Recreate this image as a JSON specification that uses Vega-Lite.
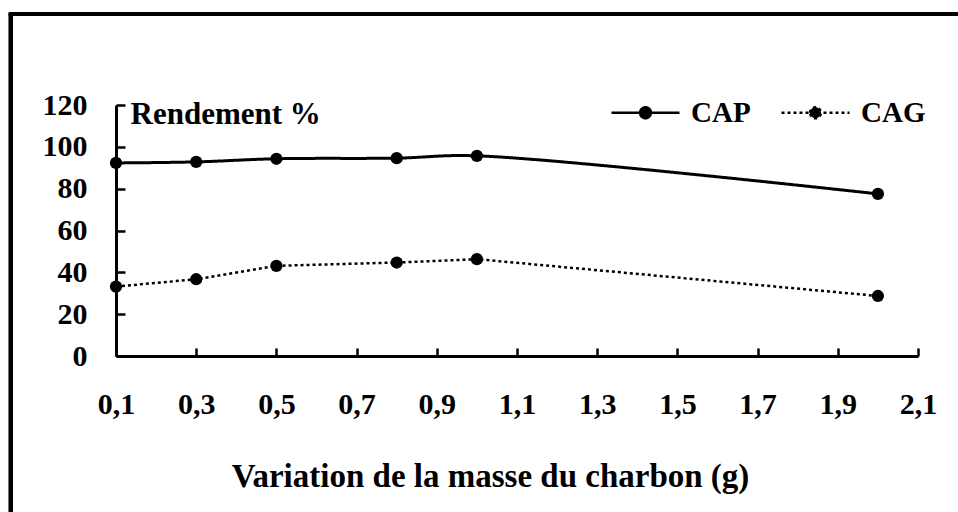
{
  "$schema": "https://vega.github.io/schema/vega-lite/v6.json",
  "width": 802,
  "height": 251,
  "autosize": "none",
  "padding": {"left": 116, "top": 105, "right": 40, "bottom": 156},
  "background": "white",
  "config": {
    "view": {"stroke": null},
    "font": "Liberation Serif",
    "axis": {
      "grid": false,
      "domainColor": "black",
      "domainWidth": 3,
      "tickColor": "black",
      "tickWidth": 2.5,
      "labelFont": "Liberation Serif",
      "labelFontWeight": "bold",
      "labelFontSize": 30,
      "labelColor": "black",
      "titleFont": "Liberation Serif",
      "titleFontWeight": "bold",
      "titleFontSize": 31,
      "titleColor": "black"
    }
  },
  "data": {
    "values": [
      {"series": "CAP", "masse": 0.1, "rendement": 92.3},
      {"series": "CAP", "masse": 0.3, "rendement": 92.8},
      {"series": "CAP", "masse": 0.5, "rendement": 94.3},
      {"series": "CAP", "masse": 0.8, "rendement": 94.6},
      {"series": "CAP", "masse": 1.0, "rendement": 95.7},
      {"series": "CAP", "masse": 2.0, "rendement": 77.5},
      {"series": "CAG", "masse": 0.1, "rendement": 33.2},
      {"series": "CAG", "masse": 0.3, "rendement": 36.7},
      {"series": "CAG", "masse": 0.5, "rendement": 43.1},
      {"series": "CAG", "masse": 0.8, "rendement": 44.7},
      {"series": "CAG", "masse": 1.0, "rendement": 46.3},
      {"series": "CAG", "masse": 2.0, "rendement": 28.7}
    ]
  },
  "encoding": {
    "x": {
      "field": "masse",
      "type": "quantitative",
      "scale": {"domain": [0.1, 2.1], "nice": false, "zero": false},
      "axis": {
        "values": [0.1, 0.3, 0.5, 0.7, 0.9, 1.1, 1.3, 1.5, 1.7, 1.9, 2.1],
        "labelExpr": "replace(format(datum.value, '.1f'), '.', ',')",
        "tickSize": -8,
        "labelPadding": 41,
        "labelFlush": false,
        "labelOverlap": false,
        "title": "Variation de la masse du charbon (g)",
        "titleFontSize": 33,
        "titleX": 374,
        "titleY": 130,
        "titleAlign": "center",
        "titleBaseline": "alphabetic",
        "titleAnchor": null
      }
    },
    "y": {
      "field": "rendement",
      "type": "quantitative",
      "scale": {"domain": [0, 120], "nice": false},
      "axis": {
        "values": [0, 20, 40, 60, 80, 100, 120],
        "tickSize": -9,
        "labelPadding": 38,
        "labelOverlap": false,
        "title": "Rendement %",
        "titleAngle": 0,
        "titleX": 14,
        "titleY": 18,
        "titleAlign": "left",
        "titleBaseline": "alphabetic",
        "titleAnchor": null
      }
    }
  },
  "layer": [
    {
      "mark": {"type": "rule", "color": "black", "strokeWidth": 4, "clip": false},
      "encoding": {
        "x": {"datum": -0.162, "type": "quantitative"},
        "y": {"datum": 163.5, "type": "quantitative"},
        "y2": {"datum": -90}
      }
    },
    {
      "mark": {"type": "rule", "color": "black", "strokeWidth": 3, "clip": false},
      "encoding": {
        "x": {"datum": -0.167, "type": "quantitative"},
        "x2": {"datum": 2.3},
        "y": {"datum": 163.5, "type": "quantitative"}
      }
    },
    {
      "transform": [{"filter": "datum.series === 'CAP'"}],
      "mark": {"type": "line", "interpolate": "catmull-rom", "color": "black", "strokeWidth": 3},
      "encoding": {
        "strokeDash": {
          "field": "series",
          "type": "nominal",
          "scale": {"domain": ["CAP", "CAG"], "range": [[1, 0], [3, 3]]},
          "legend": {
            "orient": "none",
            "legendX": 494,
            "legendY": -28,
            "direction": "horizontal",
            "title": null,
            "padding": 0,
            "symbolType": "M-1,0H1M-0.16,0A0.16,0.16,0,1,1,0.16,0A0.16,0.16,0,1,1,-0.16,0Z",
            "symbolSize": 4624,
            "symbolStrokeWidth": 2.5,
            "symbolStrokeColor": "black",
            "symbolFillColor": "black",
            "symbolOpacity": 1,
            "labelFont": "Liberation Serif",
            "labelFontWeight": "bold",
            "labelFontSize": 29,
            "labelColor": "black",
            "labelOffset": 10,
            "columnPadding": 25,
            "encode": {
              "symbols": {"update": {"fill": {"value": "black"}, "stroke": {"value": "black"}}}
            }
          }
        }
      }
    },
    {
      "transform": [{"filter": "datum.series === 'CAG'"}],
      "mark": {"type": "line", "color": "black", "strokeWidth": 2.5},
      "encoding": {
        "strokeDash": {"field": "series", "type": "nominal"}
      }
    },
    {
      "mark": {"type": "point", "filled": true, "size": 150, "color": "black", "opacity": 1},
      "encoding": {"shape": {"value": "circle"}}
    }
  ]
}
